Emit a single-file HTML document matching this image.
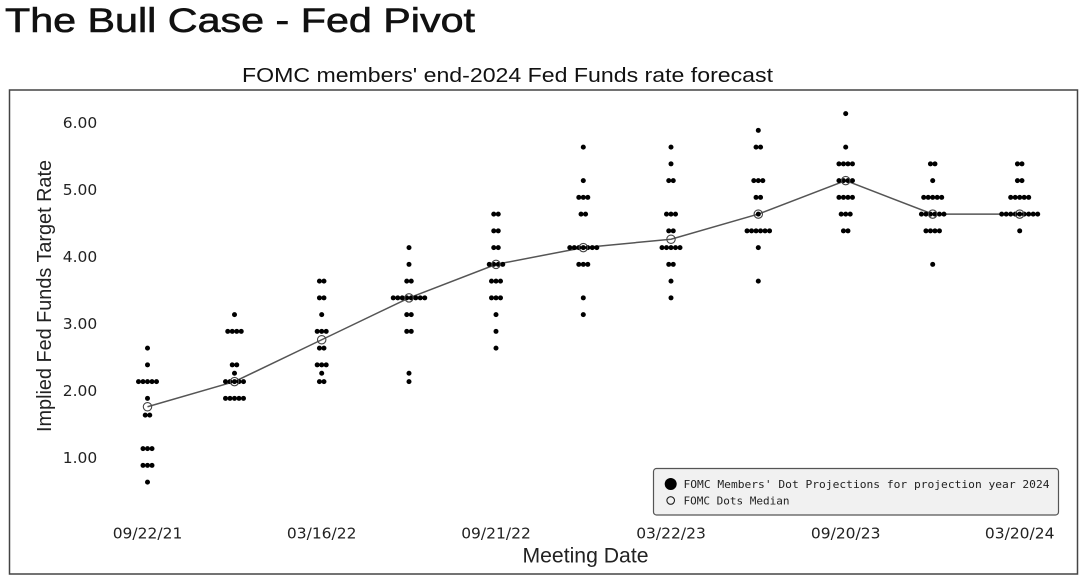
<!DOCTYPE html>
<html><head><meta charset="utf-8"><style>
html,body{margin:0;padding:0;background:#fff;}
svg{display:block;}
</style></head><body>
<svg width="1083" height="584" viewBox="0 0 1083 584" xmlns="http://www.w3.org/2000/svg">
<defs>
<g id="r1"><circle cx="0" cy="0" r="2.5"/></g>
<g id="r2"><circle cx="-2.25" cy="0" r="2.5"/><circle cx="2.25" cy="0" r="2.5"/></g>
<g id="r3"><circle cx="-4.5" cy="0" r="2.5"/><circle cx="0" cy="0" r="2.5"/><circle cx="4.5" cy="0" r="2.5"/></g>
<g id="r4"><circle cx="-6.75" cy="0" r="2.5"/><circle cx="-2.25" cy="0" r="2.5"/><circle cx="2.25" cy="0" r="2.5"/><circle cx="6.75" cy="0" r="2.5"/></g>
<g id="r5"><circle cx="-9" cy="0" r="2.5"/><circle cx="-4.5" cy="0" r="2.5"/><circle cx="0" cy="0" r="2.5"/><circle cx="4.5" cy="0" r="2.5"/><circle cx="9" cy="0" r="2.5"/></g>
<g id="r6"><circle cx="-11.25" cy="0" r="2.5"/><circle cx="-6.75" cy="0" r="2.5"/><circle cx="-2.25" cy="0" r="2.5"/><circle cx="2.25" cy="0" r="2.5"/><circle cx="6.75" cy="0" r="2.5"/><circle cx="11.25" cy="0" r="2.5"/></g>
<g id="r7"><circle cx="-13.5" cy="0" r="2.5"/><circle cx="-9" cy="0" r="2.5"/><circle cx="-4.5" cy="0" r="2.5"/><circle cx="0" cy="0" r="2.5"/><circle cx="4.5" cy="0" r="2.5"/><circle cx="9" cy="0" r="2.5"/><circle cx="13.5" cy="0" r="2.5"/></g>
<g id="r8"><circle cx="-15.75" cy="0" r="2.5"/><circle cx="-11.25" cy="0" r="2.5"/><circle cx="-6.75" cy="0" r="2.5"/><circle cx="-2.25" cy="0" r="2.5"/><circle cx="2.25" cy="0" r="2.5"/><circle cx="6.75" cy="0" r="2.5"/><circle cx="11.25" cy="0" r="2.5"/><circle cx="15.75" cy="0" r="2.5"/></g>
<g id="r9"><circle cx="-18" cy="0" r="2.5"/><circle cx="-13.5" cy="0" r="2.5"/><circle cx="-9" cy="0" r="2.5"/><circle cx="-4.5" cy="0" r="2.5"/><circle cx="0" cy="0" r="2.5"/><circle cx="4.5" cy="0" r="2.5"/><circle cx="9" cy="0" r="2.5"/><circle cx="13.5" cy="0" r="2.5"/><circle cx="18" cy="0" r="2.5"/></g>
</defs>

<!-- Title -->
<text x="5" y="32" font-family="'Liberation Sans', sans-serif" font-size="34" fill="#111" stroke="#111" stroke-width="0.6" textLength="470" lengthAdjust="spacingAndGlyphs">The Bull Case - Fed Pivot</text>

<!-- Subtitle -->
<text x="242" y="82" font-family="'Liberation Sans', sans-serif" font-size="20" fill="#111" textLength="531" lengthAdjust="spacingAndGlyphs">FOMC members' end-2024 Fed Funds rate forecast</text>

<!-- Frame -->
<rect x="9.5" y="90" width="1068" height="484" fill="none" stroke="#444" stroke-width="1.5"/>

<!-- Y axis title -->
<text transform="translate(51,296) rotate(-90)" text-anchor="middle" font-family="'Liberation Sans', sans-serif" font-size="20" fill="#222" textLength="272" lengthAdjust="spacingAndGlyphs">Implied Fed Funds Target Rate</text>

<!-- Y tick labels -->
<g font-family="'DejaVu Sans', sans-serif" font-size="15.5" fill="#222" text-anchor="middle">
<text x="80" y="128">6.00</text>
<text x="80" y="195">5.00</text>
<text x="80" y="262">4.00</text>
<text x="80" y="329">3.00</text>
<text x="80" y="396">2.00</text>
<text x="80" y="463">1.00</text>
</g>

<!-- X tick labels -->
<g font-family="'DejaVu Sans', sans-serif" font-size="15.5" fill="#222" text-anchor="middle">
<text x="147.5" y="538.5">09/22/21</text>
<text x="321.7" y="538.5">03/16/22</text>
<text x="496" y="538.5">09/21/22</text>
<text x="671" y="538.5">03/22/23</text>
<text x="845.7" y="538.5">09/20/23</text>
<text x="1019.7" y="538.5">03/20/24</text>
</g>

<!-- X axis title -->
<text x="585.5" y="562.5" text-anchor="middle" font-family="'Liberation Sans', sans-serif" font-size="21" fill="#222" textLength="126" lengthAdjust="spacingAndGlyphs">Meeting Date</text>

<!-- Median line -->
<polyline fill="none" stroke="#555" stroke-width="1.5" points="147.5,406.75 234.5,381.6 321.7,339.75 409,297.9 496,264.4 583.3,247.6 671,239.25 758.3,214.1 845.7,180.6 932.7,214.1 1019.7,214.1"/>

<!-- Dots -->
<g fill="#000">
<!-- Col 1 -->
<use href="#r1" x="147.5" y="348.1"/>
<use href="#r1" x="147.5" y="364.9"/>
<use href="#r5" x="147.5" y="381.6"/>
<use href="#r1" x="147.5" y="398.4"/>
<use href="#r2" x="147.5" y="415.1"/>
<use href="#r3" x="147.5" y="448.6"/>
<use href="#r3" x="147.5" y="465.4"/>
<use href="#r1" x="147.5" y="482.1"/>
<!-- Col 2 -->
<use href="#r1" x="234.5" y="314.6"/>
<use href="#r4" x="234.5" y="331.4"/>
<use href="#r2" x="234.5" y="364.9"/>
<use href="#r1" x="234.5" y="373.25"/>
<use href="#r5" x="234.5" y="381.6"/>
<use href="#r5" x="234.5" y="398.4"/>
<!-- Col 3 -->
<use href="#r2" x="321.7" y="281.1"/>
<use href="#r2" x="321.7" y="297.9"/>
<use href="#r1" x="321.7" y="314.6"/>
<use href="#r3" x="321.7" y="331.4"/>
<use href="#r2" x="321.7" y="348.1"/>
<use href="#r3" x="321.7" y="364.9"/>
<use href="#r1" x="321.7" y="373.25"/>
<use href="#r2" x="321.7" y="381.6"/>
<!-- Col 4 -->
<use href="#r1" x="409" y="247.6"/>
<use href="#r1" x="409" y="264.4"/>
<use href="#r2" x="409" y="281.1"/>
<use href="#r8" x="409" y="297.9"/>
<use href="#r2" x="409" y="314.6"/>
<use href="#r2" x="409" y="331.4"/>
<use href="#r1" x="409" y="373.25"/>
<use href="#r1" x="409" y="381.6"/>
<!-- Col 5 -->
<use href="#r2" x="496" y="214.1"/>
<use href="#r2" x="496" y="230.9"/>
<use href="#r2" x="496" y="247.6"/>
<use href="#r4" x="496" y="264.4"/>
<use href="#r3" x="496" y="281.1"/>
<use href="#r3" x="496" y="297.9"/>
<use href="#r1" x="496" y="314.6"/>
<use href="#r1" x="496" y="331.4"/>
<use href="#r1" x="496" y="348.1"/>
<!-- Col 6 -->
<use href="#r1" x="583.3" y="147.1"/>
<use href="#r1" x="583.3" y="180.6"/>
<use href="#r3" x="583.3" y="197.4"/>
<use href="#r2" x="583.3" y="214.1"/>
<use href="#r7" x="583.3" y="247.6"/>
<use href="#r3" x="583.3" y="264.4"/>
<use href="#r1" x="583.3" y="297.9"/>
<use href="#r1" x="583.3" y="314.6"/>
<!-- Col 7 -->
<use href="#r1" x="671" y="147.1"/>
<use href="#r1" x="671" y="163.9"/>
<use href="#r2" x="671" y="180.6"/>
<use href="#r3" x="671" y="214.1"/>
<use href="#r2" x="671" y="230.9"/>
<use href="#r5" x="671" y="247.6"/>
<use href="#r2" x="671" y="264.4"/>
<use href="#r1" x="671" y="281.1"/>
<use href="#r1" x="671" y="297.9"/>
<!-- Col 8 -->
<use href="#r1" x="758.3" y="130.4"/>
<use href="#r2" x="758.3" y="147.1"/>
<use href="#r3" x="758.3" y="180.6"/>
<use href="#r2" x="758.3" y="197.4"/>
<use href="#r1" x="758.3" y="214.1"/>
<use href="#r6" x="758.3" y="230.9"/>
<use href="#r1" x="758.3" y="247.6"/>
<use href="#r1" x="758.3" y="281.1"/>
<!-- Col 9 -->
<use href="#r1" x="845.7" y="113.6"/>
<use href="#r1" x="845.7" y="147.1"/>
<use href="#r4" x="845.7" y="163.9"/>
<use href="#r4" x="845.7" y="180.6"/>
<use href="#r4" x="845.7" y="197.4"/>
<use href="#r3" x="845.7" y="214.1"/>
<use href="#r2" x="845.7" y="230.9"/>
<!-- Col 10 -->
<use href="#r2" x="932.7" y="163.9"/>
<use href="#r1" x="932.7" y="180.6"/>
<use href="#r5" x="932.7" y="197.4"/>
<use href="#r6" x="932.7" y="214.1"/>
<use href="#r4" x="932.7" y="230.9"/>
<use href="#r1" x="932.7" y="264.4"/>
<!-- Col 11 -->
<use href="#r2" x="1019.7" y="163.9"/>
<use href="#r2" x="1019.7" y="180.6"/>
<use href="#r5" x="1019.7" y="197.4"/>
<use href="#r9" x="1019.7" y="214.1"/>
<use href="#r1" x="1019.7" y="230.9"/>
</g>

<!-- Median circles -->
<g fill="none" stroke="#444" stroke-width="1.1">
<circle cx="147.5" cy="406.75" r="4.2"/>
<circle cx="234.5" cy="381.6" r="4.2"/>
<circle cx="321.7" cy="339.75" r="4.2"/>
<circle cx="409" cy="297.9" r="4.2"/>
<circle cx="496" cy="264.4" r="4.2"/>
<circle cx="583.3" cy="247.6" r="4.2"/>
<circle cx="671" cy="239.25" r="4.2"/>
<circle cx="758.3" cy="214.1" r="4.2"/>
<circle cx="845.7" cy="180.6" r="4.2"/>
<circle cx="932.7" cy="214.1" r="4.2"/>
<circle cx="1019.7" cy="214.1" r="4.2"/>
</g>

<!-- Legend -->
<rect x="653.5" y="468.5" width="405" height="46.5" rx="3" ry="3" fill="#f1f1f1" stroke="#555" stroke-width="1.2"/>
<circle cx="670.7" cy="484" r="6" fill="#000"/>
<circle cx="670.7" cy="500.5" r="3.8" fill="none" stroke="#222" stroke-width="1.1"/>
<g font-family="'DejaVu Sans Mono', 'Liberation Mono', monospace" font-size="11" fill="#222">
<text x="683.5" y="488" textLength="366" lengthAdjust="spacingAndGlyphs">FOMC Members' Dot Projections for projection year 2024</text>
<text x="683.5" y="504.5" textLength="106" lengthAdjust="spacingAndGlyphs">FOMC Dots Median</text>
</g>
</svg>
</body></html>
